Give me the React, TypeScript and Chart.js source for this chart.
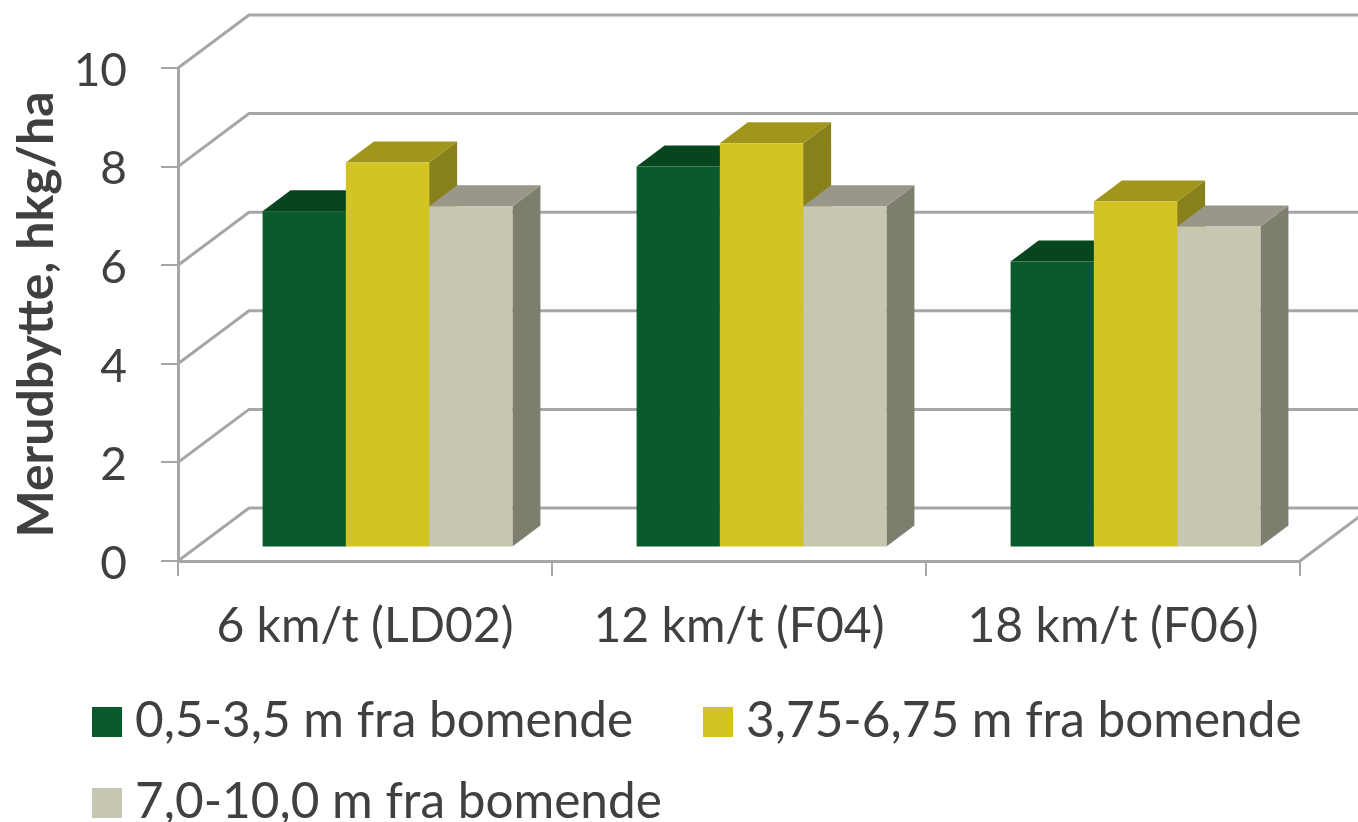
import React, { useEffect, useRef } from "react";
import { Chart, registerables } from "chart.js";

Chart.register(...registerables);

const categories = ["6 km/t (LD02)", "12 km/t (F04)", "18 km/t (F06)"];
const seriesNames = ["0,5-3,5 m fra bomende", "3,75-6,75 m fra bomende", "7,0-10,0 m fra bomende"];
const near = [6.82, 7.73, 5.8];
const middle = [7.81, 8.2, 7.02];
const far = [6.92, 6.92, 6.51];
const frontColors = ["#0b5a2e", "#d3c424", "#c7c6b0"];
const topColors = ["#07451f", "#a0961c", "#98978a"];
const sideColors = ["#053a1a", "#88801a", "#7e7e6e"];
const legendSpots = [[92, 707], [703, 707], [92, 788]];

const FONT = "Lato";
const TEXT = "#404040";
const GRID = "#a6a6a6";
const WALL = { dx: 71, dy: -53 };
const BAR = { dx: 22.5, dy: -13.5, depthX: 28, depthY: 21 };

const poly = (ctx: CanvasRenderingContext2D, pts: number[][], fill: string) => {
  ctx.beginPath();
  pts.forEach(([x, y], i) => (i ? ctx.lineTo(x, y) : ctx.moveTo(x, y)));
  ctx.closePath();
  ctx.fillStyle = fill;
  ctx.fill();
};

const scene = {
  id: "scene",
  beforeDatasetsDraw(chart: any) {
    const { ctx, scales, chartArea } = chart;
    ctx.save();
    ctx.strokeStyle = GRID;
    ctx.lineWidth = 3;
    for (const t of scales.y.ticks) {
      const y = scales.y.getPixelForValue(t.value);
      ctx.beginPath();
      ctx.moveTo(chartArea.left, y);
      ctx.lineTo(chartArea.left + WALL.dx, y + WALL.dy);
      ctx.lineTo(1400, y + WALL.dy);
      ctx.stroke();
    }
    const yb = scales.y.getPixelForValue(0);
    ctx.beginPath();
    ctx.moveTo(chartArea.right, yb);
    ctx.lineTo(chartArea.right + WALL.dx, yb + WALL.dy);
    ctx.stroke();
    ctx.translate(BAR.dx, BAR.dy);
    chart.data.datasets.forEach((_: any, di: number) => {
      chart.getDatasetMeta(di).data.forEach((el: any) => {
        const l = el.x - el.width / 2;
        const r = el.x + el.width / 2;
        const { y, base } = el;
        const d = [BAR.depthX, -BAR.depthY];
        poly(ctx, [[r, y], [r + d[0], y + d[1]], [r + d[0], base + d[1]], [r, base]], sideColors[di]);
        poly(ctx, [[l, y], [r, y], [r + d[0], y + d[1]], [l + d[0], y + d[1]]], topColors[di]);
      });
    });
  },
  afterDatasetsDraw(chart: any) {
    chart.ctx.restore();
  },
  afterDraw(chart: any) {
    const { ctx } = chart;
    ctx.save();
    ctx.font = `49.5px ${FONT}`;
    ctx.textBaseline = "middle";
    chart.data.datasets.forEach((ds: any, i: number) => {
      const [x, y] = legendSpots[i];
      ctx.fillStyle = frontColors[i];
      ctx.fillRect(x, y, 30, 30);
      ctx.fillStyle = TEXT;
      ctx.fillText(ds.label, x + 43, y + 14);
    });
    ctx.restore();
  },
};

export default function App() {
  const ref = useRef<HTMLCanvasElement>(null);
  useEffect(() => {
    document.body.style.margin = "0";
    const chart = new Chart(ref.current!, {
      type: "bar",
      data: {
        labels: categories,
        datasets: [near, middle, far].map((data, i) => ({
          label: seriesNames[i],
          data,
          backgroundColor: frontColors[i],
          categoryPercentage: 0.668,
          barPercentage: 1,
          clip: false,
        })),
      },
      plugins: [scene],
      options: {
        animation: false,
        responsive: false,
        layout: { padding: { top: 68, right: 58, left: 0, bottom: 0 } },
        plugins: { legend: { display: false }, tooltip: { enabled: false } },
        scales: {
          x: {
            afterFit: (s: any) => { s.height = 261; },
            border: { color: GRID, width: 3 },
            grid: { drawOnChartArea: false, color: GRID, lineWidth: 2, tickLength: 15, offset: true },
            ticks: { color: TEXT, font: { family: FONT, size: 48 }, padding: 22, maxRotation: 0 },
          },
          y: {
            min: 0,
            max: 10,
            afterFit: (s: any) => { s.width = 178; },
            border: { color: GRID, width: 3 },
            grid: { drawOnChartArea: false, color: GRID, lineWidth: 2, tickLength: 17 },
            ticks: { stepSize: 2, color: TEXT, font: { family: FONT, size: 46 }, padding: 34, labelOffset: 3 },
            title: {
              display: true,
              text: "Merudbytte, hkg/ha",
              color: TEXT,
              font: { family: FONT, size: 50, weight: "bold" },
              padding: { top: 7, bottom: 0 },
            },
          },
        },
      },
    } as any);
    return () => chart.destroy();
  }, []);
  return <canvas ref={ref} width={1358} height={822} style={{ display: "block" }} />;
}
